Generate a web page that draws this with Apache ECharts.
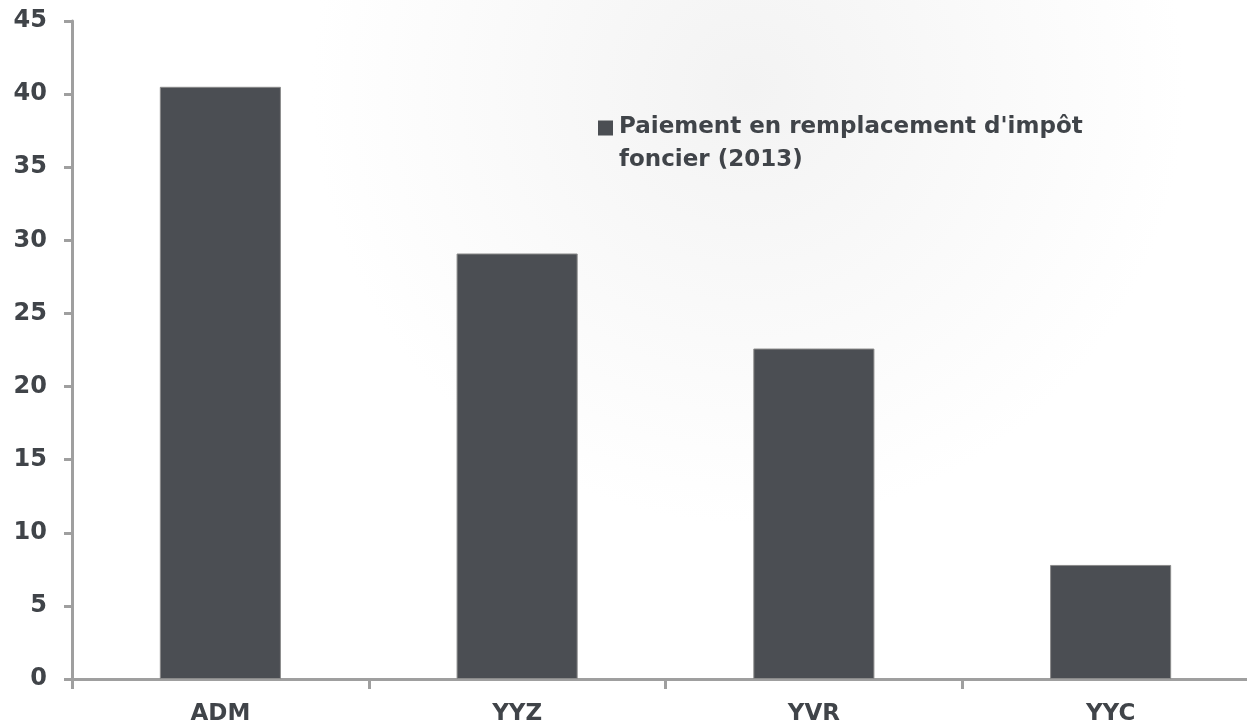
<!DOCTYPE html>
<html>
<head>
<meta charset="utf-8">
<script src="https://cdn.jsdelivr.net/npm/echarts@6/dist/echarts.min.js"></script>
<style>
html,body{margin:0;padding:0;background:#fff;}
#c{width:1247px;height:728px;}
</style>
</head>
<body>
<div id="c"></div>
<script>
var categories = ['ADM', 'YYZ', 'YVR', 'YYC'];
var values = [40.5, 29.1, 22.6, 7.8];
var seriesName = "Paiement en remplacement d'impôt\nfoncier (2013)";
var yTicks = [0, 5, 10, 15, 20, 25, 30, 35, 40, 45];

var chart = echarts.init(document.getElementById('c'));
var textColor = '#404449';
var axisColor = '#9f9f9f';
chart.setOption({
  backgroundColor: {
    type: 'radial', x: 0.6, y: 0.12, r: 0.6,
    colorStops: [{offset: 0, color: '#f3f3f3'}, {offset: 1, color: '#ffffff'}]
  },
  animation: false,
  grid: {left: 72, width: 1187, top: 21, bottom: 49, containLabel: false, outerBoundsMode: 'none'},
  legend: {
    show: true,
    left: 598, top: 111,
    padding: 0,
    orient: 'vertical',
    itemWidth: 16, itemHeight: 47,
    icon: 'path://M0,0h15v15h-15z M15.95,46.95h0.05v0.05h-0.05z',
    itemStyle: {borderWidth: 0},
    textStyle: {
      fontFamily: 'DejaVu Sans', fontWeight: 'bold', fontSize: 23,
      color: textColor, lineHeight: 33
    },
    data: [seriesName]
  },
  xAxis: {
    type: 'category',
    data: categories,
    axisLine: {lineStyle: {color: axisColor, width: 3}},
    axisTick: {show: true, length: 10, lineStyle: {color: axisColor, width: 3}},
    axisLabel: {
      fontFamily: 'DejaVu Sans', fontWeight: 'bold', fontSize: 23,
      color: textColor, margin: 24
    }
  },
  yAxis: {
    type: 'value',
    min: yTicks[0], max: yTicks[yTicks.length - 1], interval: 5,
    axisLine: {show: true, lineStyle: {color: axisColor, width: 3}},
    axisTick: {show: true, length: 8, lineStyle: {color: axisColor, width: 3}},
    splitLine: {show: false},
    axisLabel: {
      fontFamily: 'DejaVu Sans', fontWeight: 'bold', fontSize: 24,
      color: textColor, margin: 25
    }
  },
  series: [{
    name: seriesName,
    type: 'bar',
    data: values,
    barWidth: '40.8%',
    itemStyle: {color: '#4b4e53', borderColor: '#8a8a8a', borderWidth: 1}
  }]
});
</script>
</body>
</html>
